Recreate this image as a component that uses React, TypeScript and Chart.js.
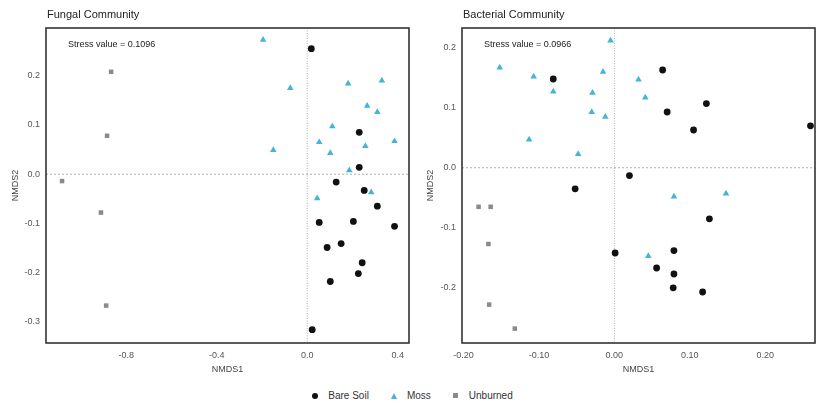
import React, { useEffect, useRef } from "react";
import { Chart, registerables } from "chart.js";

Chart.register(...registerables);

// ---------- Data ----------
const seriesNames = ["Bare Soil", "Moss", "Unburned"];
const seriesColors = ["#111111", "#45B4D5", "#8a8a8a"];
const seriesShapes = ["circle", "triangle", "rect"];
const seriesRadius = [3.4, 3.8, 3.2];

// Fungal community
const fungalBareX = [0.018, 0.23, 0.23, 0.128, 0.252, 0.31, 0.053, 0.204, 0.386, 0.088, 0.15, 0.243, 0.226, 0.102, 0.022];
const fungalBareY = [0.255, 0.085, 0.014, -0.016, -0.033, -0.065, -0.098, -0.096, -0.106, -0.149, -0.141, -0.18, -0.202, -0.218, -0.316];
const fungalMossX = [-0.195, -0.075, 0.181, 0.33, 0.265, 0.31, 0.111, 0.053, 0.257, 0.386, -0.15, 0.102, 0.186, 0.283, 0.044];
const fungalMossY = [0.273, 0.175, 0.184, 0.19, 0.139, 0.126, 0.097, 0.065, 0.057, 0.067, 0.049, 0.043, 0.008, -0.037, -0.049];
const fungalUnbX = [-0.867, -0.885, -1.084, -0.912, -0.889];
const fungalUnbY = [0.208, 0.078, -0.014, -0.078, -0.267];

// Bacterial community
const bactBareX = [-0.081, 0.064, 0.122, 0.07, 0.105, 0.26, 0.02, -0.052, 0.126, 0.001, 0.079, 0.056, 0.079, 0.078, 0.117];
const bactBareY = [0.148, 0.163, 0.107, 0.093, 0.063, 0.07, -0.013, -0.035, -0.085, -0.142, -0.138, -0.167, -0.177, -0.2, -0.207];
const bactMossX = [-0.005, -0.152, -0.107, -0.015, 0.032, -0.081, -0.029, 0.041, -0.03, -0.012, -0.113, -0.048, 0.079, 0.148, 0.045];
const bactMossY = [0.212, 0.167, 0.152, 0.16, 0.147, 0.127, 0.125, 0.117, 0.093, 0.085, 0.047, 0.023, -0.048, -0.043, -0.147];
const bactUnbX = [-0.18, -0.164, -0.167, -0.166, -0.132];
const bactUnbY = [-0.065, -0.065, -0.127, -0.228, -0.268];

const fungalXTicks = [-0.8, -0.4, 0.0, 0.4];
const fungalYTicks = [-0.3, -0.2, -0.1, 0.0, 0.1, 0.2];
const bactXTicks = [-0.2, -0.1, 0.0, 0.1, 0.2];
const bactYTicks = [-0.2, -0.1, 0.0, 0.1, 0.2];

const FONT = "'Liberation Sans', Arial, sans-serif";

function zip(xs: number[], ys: number[]) {
  return xs.map((x, i) => ({ x, y: ys[i] }));
}

type PanelProps = {
  title: string;
  stress: string;
  series: { x: number[]; y: number[] }[];
  xRange: [number, number];
  yRange: [number, number];
  xTicks: number[];
  yTicks: number[];
  xDigits: number;
  yAxisWidth: number;
  left: number;
  width: number;
};

function Panel(p: PanelProps) {
  const ref = useRef<HTMLCanvasElement>(null);
  useEffect(() => {
    if (!ref.current) return;
    const decor = {
      id: "decor",
      beforeDatasetsDraw(chart: any) {
        const { ctx, chartArea: a, scales } = chart;
        const x0 = scales.x.getPixelForValue(0);
        const y0 = scales.y.getPixelForValue(0);
        ctx.save();
        ctx.strokeStyle = "#9a9a9a";
        ctx.lineWidth = 0.8;
        ctx.setLineDash([2, 2]);
        ctx.beginPath();
        ctx.moveTo(a.left, y0);
        ctx.lineTo(a.right, y0);
        ctx.stroke();
        ctx.setLineDash([1, 1.5]);
        ctx.beginPath();
        ctx.moveTo(x0, a.top);
        ctx.lineTo(x0, a.bottom);
        ctx.stroke();
        ctx.restore();
      },
      afterDraw(chart: any) {
        const { ctx, chartArea: a } = chart;
        ctx.save();
        ctx.strokeStyle = "#333333";
        ctx.lineWidth = 1.6;
        ctx.setLineDash([]);
        ctx.strokeRect(a.left, a.top, a.right - a.left, a.bottom - a.top);
        ctx.fillStyle = "#222";
        ctx.font = `11px ${FONT}`;
        ctx.textBaseline = "middle";
        ctx.textAlign = "left";
        ctx.fillText(p.title, a.left + 1, 15);
        ctx.font = `9px ${FONT}`;
        ctx.fillText(p.stress, a.left + 22, a.top + 17);
        ctx.restore();
      },
    };
    const chart = new Chart(ref.current, {
      type: "scatter",
      data: {
        datasets: p.series.map((s, i) => ({
          label: seriesNames[i],
          data: zip(s.x, s.y),
          backgroundColor: seriesColors[i],
          borderColor: seriesColors[i],
          borderWidth: 0,
          pointStyle: seriesShapes[i] as any,
          pointRadius: seriesRadius[i],
        })),
      },
      options: {
        animation: false,
        responsive: false,
        layout: { padding: { left: 0, top: 28, right: 6, bottom: 0 } },
        plugins: { legend: { display: false }, tooltip: { enabled: false }, title: { display: false } },
        scales: {
          x: {
            type: "linear",
            min: p.xRange[0],
            max: p.xRange[1],
            grid: { display: false, drawTicks: true, tickLength: 3, color: "#333" } as any,
            border: { display: false },
            afterBuildTicks: (s: any) => { s.ticks = p.xTicks.map((v) => ({ value: v })); },
            afterFit: (s: any) => { s.height = 37; },
            ticks: {
              color: "#555",
              font: { size: 9, family: FONT },
              padding: 4,
              maxRotation: 0,
              callback: (v: any) => Number(v).toFixed(p.xDigits),
            },
            title: { display: true, text: "NMDS1", color: "#444", font: { size: 9, family: FONT }, padding: { top: 1, bottom: 5 } },
          },
          y: {
            type: "linear",
            min: p.yRange[0],
            max: p.yRange[1],
            grid: { display: false, drawTicks: true, tickLength: 3, color: "#333" } as any,
            border: { display: false },
            afterBuildTicks: (s: any) => { s.ticks = p.yTicks.map((v) => ({ value: v })); },
            afterFit: (s: any) => { s.width = p.yAxisWidth; },
            ticks: {
              color: "#555",
              font: { size: 9, family: FONT },
              padding: 3,
              callback: (v: any) => Number(v).toFixed(1),
            },
            title: { display: true, text: "NMDS2", color: "#444", font: { size: 9, family: FONT }, padding: { top: 10, bottom: 2 } },
          },
        },
      },
      plugins: [decor],
    } as any);
    return () => chart.destroy();
  }, []);
  return (
    <canvas
      ref={ref}
      width={p.width}
      height={380}
      style={{ position: "absolute", left: p.left, top: 0, width: p.width, height: 380 }}
    />
  );
}

function LegendItem({ i }: { i: number }) {
  const c = seriesColors[i];
  let sym: React.ReactNode;
  if (seriesShapes[i] === "circle") {
    sym = <span style={{ display: "inline-block", width: 6, height: 6, borderRadius: 3, background: c }} />;
  } else if (seriesShapes[i] === "triangle") {
    sym = (
      <span style={{ display: "inline-block", width: 0, height: 0, borderLeft: "3.5px solid transparent", borderRight: "3.5px solid transparent", borderBottom: `6px solid ${c}` }} />
    );
  } else {
    sym = <span style={{ display: "inline-block", width: 5, height: 5, background: c }} />;
  }
  return (
    <span style={{ display: "inline-flex", alignItems: "center", marginRight: 18 }}>
      <span style={{ width: 14, display: "inline-flex", justifyContent: "center", marginRight: 6 }}>{sym}</span>
      <span>{seriesNames[i]}</span>
    </span>
  );
}

export default function App() {
  return (
    <div style={{ position: "fixed", left: 0, top: 0, width: 821, height: 408, background: "#fff", overflow: "hidden" }}>
      <Panel
        title="Fungal Community"
        stress="Stress value = 0.1096"
        series={[
          { x: fungalBareX, y: fungalBareY },
          { x: fungalMossX, y: fungalMossY },
          { x: fungalUnbX, y: fungalUnbY },
        ]}
        xRange={[-1.155, 0.45]}
        yRange={[-0.343, 0.297]}
        xTicks={fungalXTicks}
        yTicks={fungalYTicks}
        xDigits={1}
        yAxisWidth={46}
        left={0}
        width={415}
      />
      <Panel
        title="Bacterial Community"
        stress="Stress value = 0.0966"
        series={[
          { x: bactBareX, y: bactBareY },
          { x: bactMossX, y: bactMossY },
          { x: bactUnbX, y: bactUnbY },
        ]}
        xRange={[-0.202, 0.266]}
        yRange={[-0.292, 0.233]}
        xTicks={bactXTicks}
        yTicks={bactYTicks}
        xDigits={2}
        yAxisWidth={47}
        left={415}
        width={406}
      />
      <div
        style={{
          position: "absolute",
          left: 0,
          top: 390,
          width: 821,
          textAlign: "center",
          fontFamily: FONT,
          fontSize: 10,
          color: "#333",
          paddingLeft: 18,
          boxSizing: "border-box",
          display: "flex",
          justifyContent: "center",
        }}
      >
        <LegendItem i={0} />
        <LegendItem i={1} />
        <LegendItem i={2} />
      </div>
    </div>
  );
}
